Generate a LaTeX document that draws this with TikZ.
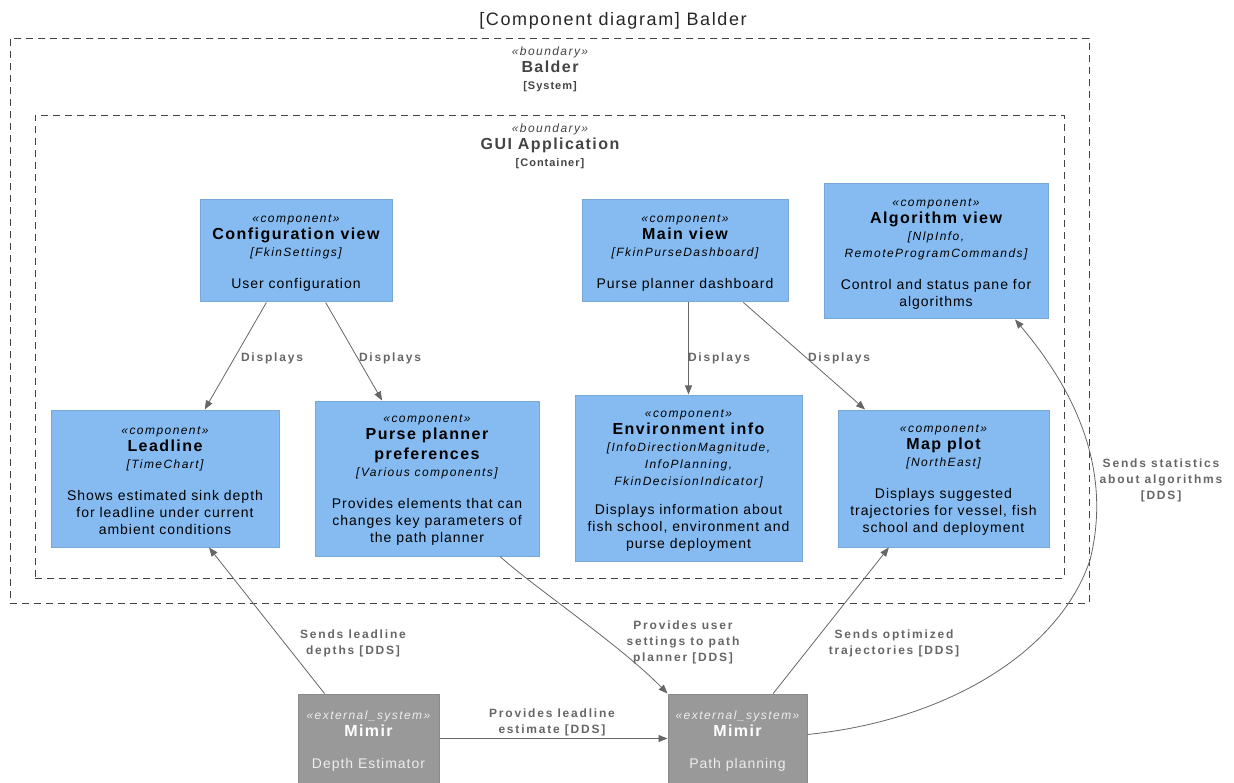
\documentclass[tikz,border=0pt]{standalone}
\usepackage{fontspec}
\setmainfont{Liberation Sans}
\newfontfamily\bodyf[LetterSpace=7]{Liberation Sans}
\newfontfamily\namef[LetterSpace=9]{Liberation Sans}
\newfontfamily\sterf[LetterSpace=12]{Liberation Sans}
\newfontfamily\lblf[LetterSpace=15]{Liberation Sans}
\newfontfamily\titlef[LetterSpace=9]{Liberation Sans}
\usetikzlibrary{arrows.meta,calc}
\definecolor{compfill}{HTML}{85BBF0}
\definecolor{compdraw}{HTML}{78A8D8}
\definecolor{extfill}{HTML}{999999}
\definecolor{extdraw}{HTML}{8A8A8A}
\definecolor{lblgray}{HTML}{666666}
\definecolor{bnd}{HTML}{444444}
\newcommand\stereo[1]{{\sterf\itshape\fontsize{12}{17}\selectfont «#1»}}
\newcommand\nm[1]{{\namef\bfseries\fontsize{16}{17}\selectfont #1}}
\newcommand\tech[1]{{\sterf\itshape\fontsize{12}{17}\selectfont #1}}
\begin{document}
\begin{tikzpicture}[x=1pt,y=-1pt,
 comp/.style={rectangle, fill=compfill, draw=compdraw, line width=1pt, inner sep=0pt},
 ext/.style={rectangle, fill=extfill, draw=extdraw, line width=1pt, inner sep=0pt},
 ctext/.style={align=center, inner sep=0pt, font=\bodyf\fontsize{14}{17}\selectfont, text=black},
 etext/.style={align=center, inner sep=0pt, font=\bodyf\fontsize{14}{17}\selectfont, text=white!93!black},
 rel/.style={draw=lblgray, line width=0.8pt, -{Triangle[length=9pt,width=7pt]}},
 lbl/.style={font=\lblf\bfseries\fontsize{12}{16}\selectfont, text=lblgray, align=center, inner sep=0pt},
 bound/.style={rectangle, draw=bnd, dash pattern=on 7pt off 5pt, line width=0.8pt, inner sep=0pt},
 blbl/.style={align=center, inner sep=0pt, text=bnd, font=\bodyf\fontsize{14}{17}\selectfont}]
\useasboundingbox (0,0) rectangle (1234,783);

\node[inner sep=0pt, text=black!85] (title) at (613,21) {\titlef\fontsize{18}{20}\selectfont [Component diagram] Balder};

% boundaries
\node[bound, minimum width=1079pt, minimum height=565pt] (sys) at (549.5,320.5) {};
\node[blbl] (syslbl) at (550,69) {\stereo{boundary}\\ \nm{Balder}\\ {\namef\bfseries\fontsize{11}{17}\selectfont [System]}};
\node[bound, minimum width=1029pt, minimum height=463pt] (gui) at (549.5,346.5) {};
\node[blbl] (guilbl) at (550,146) {\stereo{boundary}\\ \nm{GUI Application}\\ {\namef\bfseries\fontsize{11}{17}\selectfont [Container]}};

% components
\node[comp, minimum width=192pt, minimum height=102pt] (config) at (296,251) {};
\node[ctext] (configT) at ($(config)+(0,2.5)$)
 {\stereo{component}\\ \nm{Configuration view}\\ \tech{[FkinSettings]}\\[15pt] User configuration};
\node[comp, minimum width=206pt, minimum height=102pt] (main) at (685,251) {};
\node[ctext] (mainT) at ($(main)+(0,2.5)$)
 {\stereo{component}\\ \nm{Main view}\\ \tech{[FkinPurseDashboard]}\\[15pt] Purse planner dashboard};
\node[comp, minimum width=224pt, minimum height=135pt] (algo) at (936,251.5) {};
\node[ctext] (algoT) at ($(algo)+(0,2.5)$)
 {\stereo{component}\\ \nm{Algorithm view}\\ \tech{[NlpInfo,}\\ \tech{RemoteProgramCommands]}\\[15pt] Control and status pane for\\ algorithms};
\node[comp, minimum width=228pt, minimum height=137pt] (lead) at (165,478.5) {};
\node[ctext] (leadT) at ($(lead)+(0,2)$)
 {\stereo{component}\\ \nm{Leadline}\\ \tech{[TimeChart]}\\[15pt] Shows estimated sink depth\\ for leadline under current\\ ambient conditions};
\node[comp, minimum width=224pt, minimum height=155pt] (purse) at (427,478.5) {};
\node[ctext] (purseT) at ($(purse)+(0,2)$)
 {\stereo{component}\\ \nm{Purse planner}\\[3pt] \nm{preferences}\\ \tech{[Various components]}\\[15pt] Provides elements that can\\ changes key parameters of\\ the path planner};
\node[comp, minimum width=227pt, minimum height=166pt] (env) at (688.5,478) {};
\node[ctext] (envT) at ($(env)+(0,3)$)
 {\stereo{component}\\ \nm{Environment info}\\ \tech{[InfoDirectionMagnitude,}\\ \tech{InfoPlanning,}\\ \tech{FkinDecisionIndicator]}\\[12pt] Displays information about\\ fish school, environment and\\ purse deployment};
\node[comp, minimum width=211pt, minimum height=137pt] (map) at (943.5,478.5) {};
\node[ctext] (mapT) at ($(map)+(0,2)$)
 {\stereo{component}\\ \nm{Map plot}\\ \tech{[NorthEast]}\\[15pt] Displays suggested\\ trajectories for vessel, fish\\ school and deployment};

% external systems
\node[ext, minimum width=141pt, minimum height=89pt] (depth) at (368.5,738.5) {};
\node[etext] (depthT) at ($(depth)+(0,3)$)
 {\stereo{external\_system}\\ {\color{white}\nm{Mimir}}\\[15pt] Depth Estimator};
\node[ext, minimum width=139pt, minimum height=89pt] (path) at (737.5,738.5) {};
\node[etext] (pathT) at ($(path)+(0,3)$)
 {\stereo{external\_system}\\ {\color{white}\nm{Mimir}}\\[15pt] Path planning};

% relations
\draw[rel] (config) -- (lead);
\node[lbl] (l1) at (272,358) {Displays};
\draw[rel] (config) -- (purse);
\node[lbl] (l2) at (390,358) {Displays};
\draw[rel] (main.south -| env.north) -- (env.north);
\node[lbl] (l3) at (719,358) {Displays};
\draw[rel] (main) -- (map);
\node[lbl] (l4) at (839,358) {Displays};

\draw[rel] ($(depth.north west)+(27,0)$) -- ($(lead.south)+(44,0)$);
\node[lbl] (l5) at (353,643) {Sends leadline\\ depths [DDS]};

\draw[rel] ($(purse.south)+(73,0)$) .. controls (535,588) and (620,645) .. (path.north west);
\node[lbl] (l6) at (683,642) {Provides user\\ settings to path\\ planner [DDS]};

\draw[rel] (path) -- (map);
\node[lbl] (l7) at (894,643) {Sends optimized\\ trajectories [DDS]};

\draw[rel] (depth) -- (path);
\node[lbl] (l8) at (552,722) {Provides leadline\\ estimate [DDS]};

\draw[rel] ($(path.east)+(0,-4)$) .. controls (950,720) and (1060,650) .. (1090,560)
  .. controls (1105,500) and (1100,420) .. ($(algo.south)+(79,0)$);
\node[lbl] (l9) at (1161,480) {Sends statistics\\ about algorithms\\ {[DDS]}};
\end{tikzpicture}
\end{document}
